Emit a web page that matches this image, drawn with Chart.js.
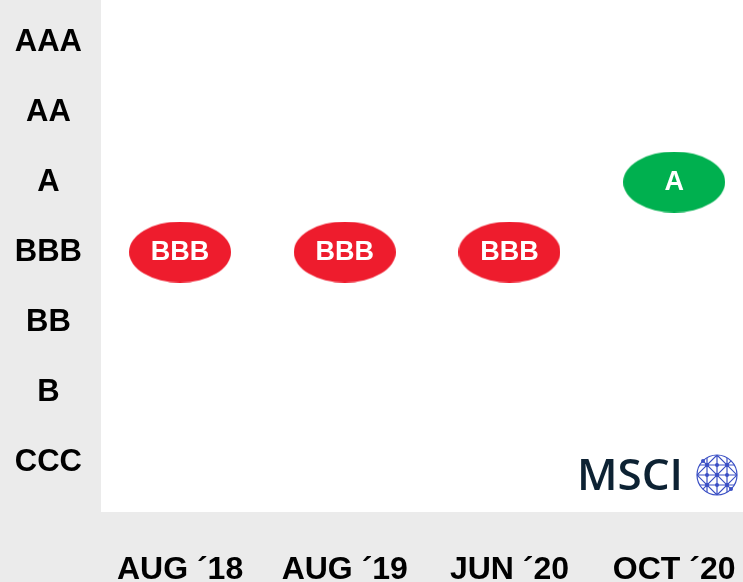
<!DOCTYPE html>
<html>
<head>
<meta charset="utf-8">
<script src="https://cdn.jsdelivr.net/npm/chart.js@4.4.0/dist/chart.umd.min.js"></script>
<style>
  html, body { margin: 0; padding: 0; background: #ebebeb; }
  #wrap { width: 743px; height: 582px; }
</style>
</head>
<body>
<div id="wrap"><canvas id="chart" width="743" height="582"></canvas></div>
<script>
// rating scale, top to bottom
const ratingScale = ['AAA', 'AA', 'A', 'BBB', 'BB', 'B', 'CCC'];
// review dates
const periods = ['AUG \u00b418', 'AUG \u00b419', 'JUN \u00b420', 'OCT \u00b420'];
// MSCI ESG rating at each date
const ratings = ['BBB', 'BBB', 'BBB', 'A'];

const RED = '#ee1c2d';
const GREEN = '#00b04f';
const FONT = '"Liberation Sans", Arial, sans-serif';

// oval marker drawn once, used as pointStyle
function makeOval(color) {
  const c = document.createElement('canvas');
  c.width = 102;
  c.height = 61;
  const g = c.getContext('2d');
  g.fillStyle = color;
  g.beginPath();
  g.ellipse(51, 30.5, 51, 30.5, 0, 0, Math.PI * 2);
  g.fill();
  return c;
}
const redOval = makeOval(RED);
const greenOval = makeOval(GREEN);

const colorFor = r => (ratingScale.indexOf(r) <= ratingScale.indexOf('A') ? greenOval : redOval);

const points = ratings.map((r, i) => ({ x: i, y: ratingScale.indexOf(r) }));

// no extra room for edge labels
const noPad = s => {
  s.paddingTop = 0;
  s.paddingBottom = 0;
  s.paddingLeft = 0;
  s.paddingRight = 0;
};

// grey frame + white plot area
const panelPlugin = {
  id: 'panel',
  beforeDraw(chart) {
    const { ctx, chartArea: a } = chart;
    ctx.save();
    ctx.fillStyle = '#ebebeb';
    ctx.fillRect(0, 0, chart.width, chart.height);
    ctx.fillStyle = '#ffffff';
    ctx.fillRect(a.left, a.top, a.right - a.left, a.bottom - a.top);
    ctx.restore();
  }
};

// rating text inside each oval
const ovalLabels = {
  id: 'ovalLabels',
  afterDatasetsDraw(chart) {
    const { ctx } = chart;
    const meta = chart.getDatasetMeta(0);
    ctx.save();
    ctx.fillStyle = '#ffffff';
    ctx.font = 'bold 27px ' + FONT;
    ctx.textAlign = 'center';
    ctx.textBaseline = 'middle';
    meta.data.forEach((el, i) => {
      ctx.fillText(ratings[i], el.x, el.y + 1);
    });
    ctx.restore();
  }
};

// MSCI logo in bottom right corner
const logoPlugin = {
  id: 'logo',
  afterDraw(chart) {
    const { ctx, chartArea: a } = chart;
    ctx.save();
    ctx.fillStyle = '#0d2233';
    ctx.font = '600 44px "Open Sans", sans-serif';
    ctx.textAlign = 'right';
    ctx.textBaseline = 'alphabetic';
    ctx.fillText('MSCI', a.right - 60, a.bottom - 22);

    const cx = a.right - 26, cy = a.bottom - 37, r = 20;
    ctx.strokeStyle = '#3a4fc4';
    ctx.fillStyle = '#3a4fc4';
    ctx.lineWidth = 1.2;
    ctx.beginPath();
    ctx.arc(cx, cy, r, 0, Math.PI * 2);
    ctx.stroke();
    ctx.save();
    ctx.beginPath();
    ctx.arc(cx, cy, r, 0, Math.PI * 2);
    ctx.clip();
    ctx.beginPath();
    [-r / 2, 0, r / 2].forEach(d => {
      ctx.moveTo(cx + d, cy - r); ctx.lineTo(cx + d, cy + r);
      ctx.moveTo(cx - r, cy + d); ctx.lineTo(cx + r, cy + d);
    });
    [-r, 0, r].forEach(d => {
      ctx.moveTo(cx - r + d, cy - r); ctx.lineTo(cx + r + d, cy + r);
      ctx.moveTo(cx + r + d, cy - r); ctx.lineTo(cx - r + d, cy + r);
    });
    ctx.stroke();
    ctx.restore();
    [[0, 0], [-r / 2, -r / 2], [r / 2, -r / 2], [-r / 2, r / 2], [r / 2, r / 2],
     [0, -r / 2], [0, r / 2], [-r / 2, 0], [r / 2, 0], [-r * 0.7, -r * 0.7], [r * 0.7, r * 0.7]].forEach(([dx, dy]) => {
      ctx.beginPath();
      ctx.arc(cx + dx, cy + dy, 2, 0, Math.PI * 2);
      ctx.fill();
    });
    ctx.restore();
  }
};

new Chart(document.getElementById('chart'), {
  type: 'scatter',
  data: {
    datasets: [{
      data: points,
      pointStyle: ctx => colorFor(ratings[ctx.dataIndex]),
      pointRadius: 30,
      pointHoverRadius: 30,
      clip: false
    }]
  },
  options: {
    responsive: false,
    animation: false,
    events: [],
    layout: { padding: 0, autoPadding: false },
    plugins: {
      legend: { display: false },
      tooltip: { enabled: false }
    },
    scales: {
      x: {
        type: 'linear',
        min: -0.48,
        max: 3.418,
        grid: { display: false, drawTicks: false },
        border: { display: false },
        afterBuildTicks: s => { s.ticks = periods.map((_, i) => ({ value: i })); },
        afterFit: s => { s.height = 70; noPad(s); },
        ticks: {
          padding: 39,
          color: '#000',
          font: { family: FONT, size: 32, weight: 'bold' },
          maxRotation: 0,
          autoSkip: false,
          callback: v => periods[v]
        }
      },
      y: {
        type: 'linear',
        reverse: true,
        min: -0.6,
        max: 6.714,
        grid: { display: false, drawTicks: false },
        border: { display: false },
        afterBuildTicks: s => { s.ticks = ratingScale.map((_, i) => ({ value: i })); },
        afterFit: s => { s.width = 101; noPad(s); },
        ticks: {
          padding: 19,
          crossAlign: 'center',
          color: '#000',
          font: { family: FONT, size: 31, weight: 'bold' },
          autoSkip: false,
          callback: v => ratingScale[v]
        }
      }
    }
  },
  plugins: [panelPlugin, ovalLabels, logoPlugin]
});
</script>
</body>
</html>
